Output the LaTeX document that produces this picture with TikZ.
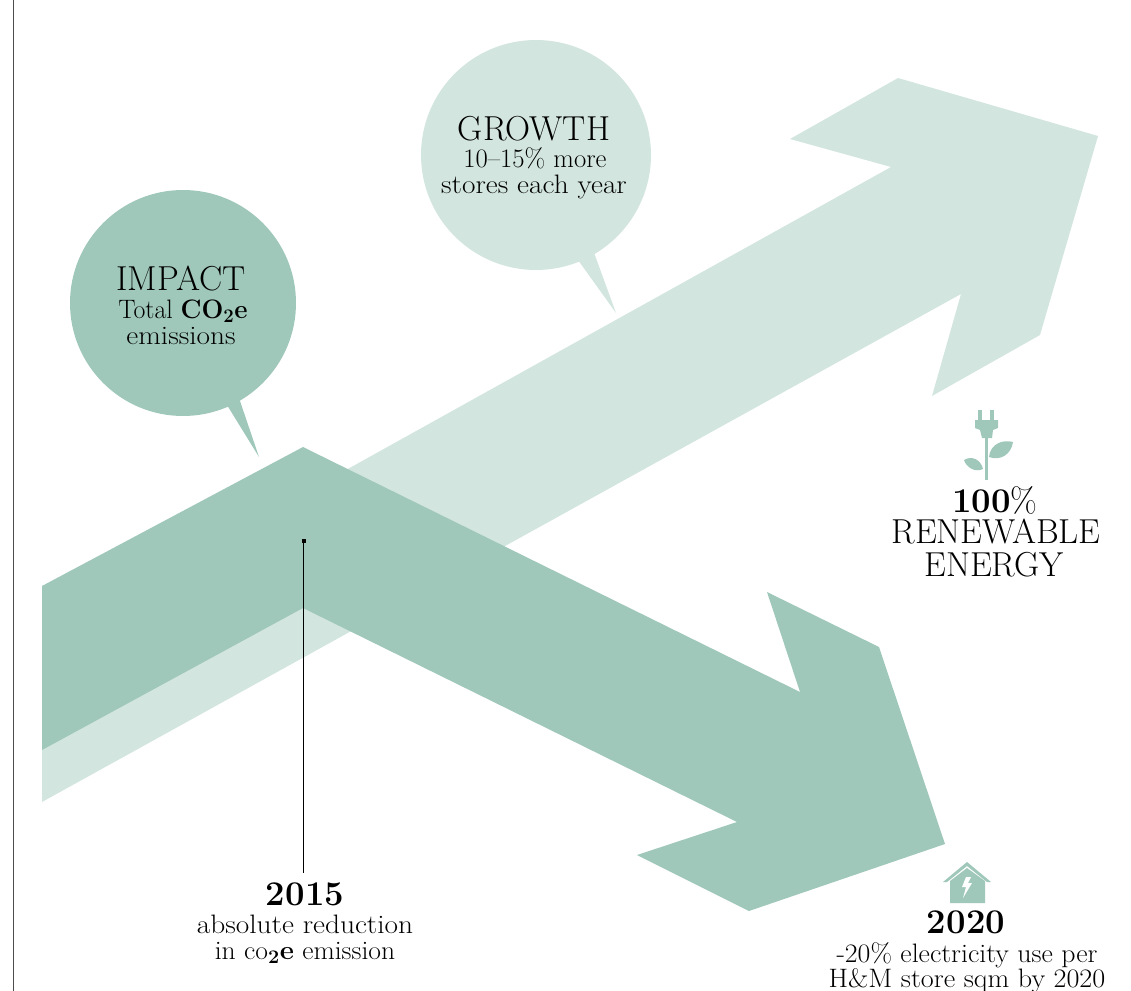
\documentclass[tikz,border=0pt]{standalone}
\definecolor{sagedark}{HTML}{9FC8BA}
\definecolor{sagelight}{HTML}{D2E5DF}
\tikzstyle{caption}=[anchor=base, inner sep=0, text=black]
\tikzstyle{title}=[caption, font=\fontsize{26}{28}\selectfont]
\tikzstyle{year}=[caption, font=\fontsize{26}{28}\selectfont\bfseries]
\tikzstyle{detail}=[caption, transform shape, xscale=1.1, font=\fontsize{20}{22}\selectfont]
\tikzstyle{bubble}=[circle, inner sep=0]
\tikzstyle{dot}=[rectangle, minimum size=3pt, inner sep=0, fill=black]

\begin{document}
\begin{tikzpicture}[x=0.75pt, y=-0.75pt]

\useasboundingbox (0, 0) rectangle (1131, 991);

\draw [black!70, line width=0.6pt] (13, 0) to (13, 991);

\fill [sagelight] (42, 639) to (891, 167) to (790, 139)
        to (898, 78) to (1098, 136) to (1040, 335)
        to (932, 396) to (961, 294) to (42, 802) -- cycle;

\fill [sagedark] (42, 586) to (303, 447) to (800, 692)
        to (767, 592) to (879, 647) to (945, 844)
        to (749, 911) to (637, 855) to (737, 822)
        to (303, 608) to (42, 750) -- cycle;

\node [bubble, fill=sagedark, minimum size=169.5pt] (impact) at (183, 303) {};
\fill [sagedark] (227, 405) to (259, 457) to (239, 398) -- cycle;

\node [bubble, fill=sagelight, minimum size=172.5pt] (growth) at (536, 155) {};
\fill [sagelight] (578, 260) to (616, 313) to (593, 250) -- cycle;

\node [title] at (181, 291) {IMPACT};
\node [detail, xscale=0.88] at (183, 318) {Total \textbf{CO$_{\mathbf{2}}$e}};
\node [detail] at (181, 344) {emissions};

\node [title] at (534, 141) {GROWTH};
\node [detail, xscale=0.91] at (535, 168) {10--15\% more};
\node [detail] at (534, 194) {stores each year};

\node [dot] (marker) at (303.5, 541) {};
\coordinate (leadend) at (303.5, 873);
\node [year] (start) at (305, 905) {2015};
\node [detail] at (305, 933) {absolute reduction};
\node [detail, xscale=0.94] at (305, 959) {in co$_{\mathbf{2}}$\textbf{e} emission};
\draw [black, line width=0.8pt] (marker) to (leadend);

\fill [sagedark] (978, 410) rectangle (982, 421);
\fill [sagedark] (990, 410) rectangle (994, 421);
\fill [sagedark] (975, 420) to (998, 420) to (998, 428)
        to (993, 430) to (992, 438) to (982, 438)
        to (980, 430) to (975, 428) -- cycle;
\fill [sagedark] (984.5, 437) rectangle (987.5, 480);
\fill [sagedark] (989, 457) .. controls (990, 444) and (1003, 439) .. (1013, 442)
        .. controls (1011, 455) and (1000, 461) .. (989, 457) -- cycle;
\fill [sagedark] (983, 469) .. controls (975, 473) and (966, 467) .. (964, 460)
        .. controls (972, 455) and (981, 460) .. (983, 469) -- cycle;

\node [title] at (995, 512) {\textbf{100}\%};
\node [title] at (996, 543) {RENEWABLE};
\node [title] at (994, 576) {ENERGY};

\fill [sagedark] (943, 882) to (967, 862) to (991, 882)
        to (987, 882) to (967, 866) to (947, 882) -- cycle;
\fill [sagedark] (950, 881) to (967, 868) to (985, 881)
        to (985, 903) to (950, 903) -- cycle;
\fill [white] (966, 877) to (962, 887) to (966, 887)
        to (963, 898) to (972, 883) to (968, 883) to (971, 877) -- cycle;

\node [year] at (966, 933) {2020};
\node [detail, xscale=0.95] at (967, 962) {-20\% electricity use per};
\node [detail, xscale=0.96] at (967, 987) {H\&M store sqm by 2020};

\end{tikzpicture}
\end{document}
